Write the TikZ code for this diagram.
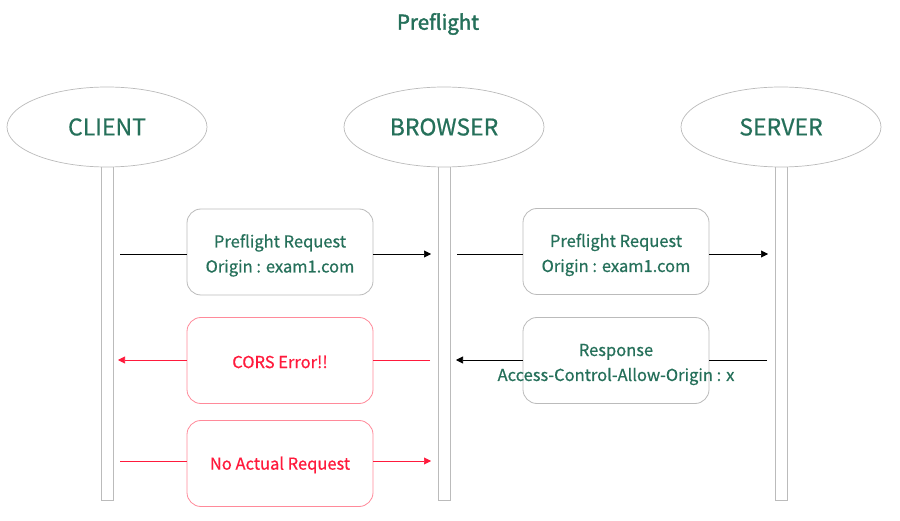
\documentclass[tikz,border=0pt]{standalone}
\usepackage{fontspec}
\setmainfont{Noto Sans CJK KR}[FakeBold=0.6]
\newfontfamily\titlefont{Noto Sans CJK KR}[FakeBold=2]
\usetikzlibrary{shapes.geometric,arrows.meta}
\definecolor{tgreen}{HTML}{25705A}
\definecolor{tred}{HTML}{FF1A3C}
\definecolor{lred}{HTML}{FF8A9A}
\definecolor{lgray}{HTML}{BBBBBB}
\newcommand{\bxt}[1]{\raisebox{-3pt}[\height][\depth]{\begin{tabular}{@{}c@{}}#1\end{tabular}}}
\newcommand{\lnt}[1]{\raisebox{-1.5pt}[\height][\depth]{#1}}
\tikzset{
  actor/.style={ellipse,draw=lgray,line width=0.7pt,minimum width=200pt,minimum height=80pt,inner sep=0pt,text=tgreen,font=\fontsize{23}{23}\selectfont},
  life/.style={draw=lgray,fill=white,line width=1pt,minimum width=12pt,inner sep=0pt},
  msgbox/.style={draw=lgray,fill=white,rounded corners=14pt,line width=0.8pt,minimum width=186pt,minimum height=86pt,inner sep=0pt,text=tgreen,font=\fontsize{16.5}{25}\selectfont},
  errbox/.style={msgbox,draw=lred,text=tred},
  msg/.style={line width=0.6pt,draw=black},
  errmsg/.style={line width=0.6pt,draw=tred},
  tip/.style={-{Triangle[length=7pt,width=7pt]}}
}
\begin{document}
\begin{tikzpicture}[x=1pt,y=-1pt]
\useasboundingbox (0,0) rectangle (900,521);
\node[text=tgreen,font=\titlefont\fontsize{20.5}{20.5}\selectfont] (title) at (438,24) {Preflight};
% lifelines
\node[life,minimum height=333pt] (lc) at (107,333.5) {};
\node[life,minimum height=333pt] (lb) at (444,333.5) {};
\node[life,minimum height=333pt] (ls) at (781,333.5) {};
% actors
\node[actor,fill=white] (client) at (107,127) {CLIENT};
\node[actor,fill=white] (browser) at (444,127) {BROWSER};
\node[actor,fill=white] (server) at (781,127) {SERVER};
% boxes
\node[msgbox] (b1) at (280,252) {\bxt{Preflight Request\\Origin : exam1.com}};
\node[msgbox] (b2) at (616,251.5) {\bxt{Preflight Request\\Origin : exam1.com}};
\node[errbox] (b3) at (280,360.5) {\lnt{CORS Error!!}};
\node[errbox] (b4) at (280,463.5) {\lnt{No Actual Request}};
\node[msgbox] (b5) at (616,360.5) {\makebox[0pt][c]{\bxt{Response\\Access-Control-Allow-Origin : x}}};
% coordinates for message ends
\coordinate (c1s) at (120,254);
\coordinate (c1e) at (431,254);
\coordinate (c2s) at (457,254);
\coordinate (c2e) at (768,254);
\coordinate (c3s) at (430,360);
\coordinate (c3e) at (118,360);
\coordinate (c4s) at (120,461);
\coordinate (c4e) at (431,461);
\coordinate (c5s) at (767,360);
\coordinate (c5e) at (456,360);
% connectors
\draw[msg] (c1s) -- (c1s -| b1.west);
\draw[msg,tip] (c1e -| b1.east) -- (c1e);
\draw[msg] (c2s) -- (c2s -| b2.west);
\draw[msg,tip] (c2e -| b2.east) -- (c2e);
\draw[errmsg] (c3s) -- (c3s -| b3.east);
\draw[errmsg,tip,tred] (c3e -| b3.west) -- (c3e);
\draw[errmsg] (c4s) -- (c4s -| b4.west);
\draw[errmsg,tip,tred] (c4e -| b4.east) -- (c4e);
\draw[msg] (c5s) -- (c5s -| b5.east);
\draw[msg,tip] (c5e -| b5.west) -- (c5e);
\end{tikzpicture}
\end{document}
